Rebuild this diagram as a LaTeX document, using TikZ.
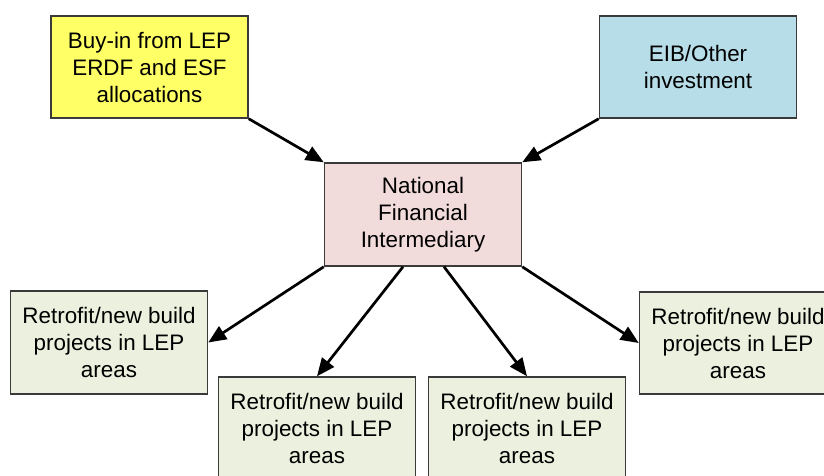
\documentclass[tikz,border=0pt]{standalone}
\usepackage{fontspec}
\setmainfont{Liberation Sans}
\usepackage{tikz}
\usetikzlibrary{arrows.meta}
\usetikzlibrary{calc}

\definecolor{fundyellow}{HTML}{FFFF66}
\definecolor{fundblue}{HTML}{B7DDE8}
\definecolor{hubpink}{HTML}{F2DCDB}
\definecolor{projgreen}{HTML}{EBF1DE}
\definecolor{edgegray}{HTML}{3A3A3A}

\begin{document}
\begin{tikzpicture}[x=1pt, y=-1pt, >={Triangle[length=18pt,width=15pt]},
    box/.style={draw=edgegray, line width=1.5pt, minimum width=197pt,
        minimum height=102pt, inner sep=0pt, align=center,
        font=\fontsize{22.4}{27}\selectfont},
    flow/.style={->, line width=2.7pt, black}]
    % Frame of the picture
    \useasboundingbox (0,0) rectangle (824,475);

    % Sources of money
    \node[box, fill=fundyellow] (buyin) at (149.5,67) {Buy-in from LEP\\ERDF and ESF\\allocations};
    \node[box, fill=fundblue] (eib) at (698,67) {EIB/Other\\investment};

    % The intermediary in the middle
    \node[box, fill=hubpink, minimum height=103pt] (nfi) at (423,214.5) {National\\Financial\\Intermediary};

    % Projects below
    \node[box, fill=projgreen, minimum height=103pt] (projA) at (109,342.5) {Retrofit/new build\\projects in LEP\\areas};
    \node[box, fill=projgreen, minimum height=103pt] (projB) at (317,428.5) {Retrofit/new build\\projects in LEP\\areas};
    \node[box, fill=projgreen, minimum height=103pt] (projC) at (527,428.5) {Retrofit/new build\\projects in LEP\\areas};
    \node[box, fill=projgreen] (projD) at (738,343) {Retrofit/new build\\projects in LEP\\areas};

    % Start points of the two middle arrows
    \coordinate (outB) at ($(nfi.south)+(-20,0)$);
    \coordinate (outC) at ($(nfi.south)+(21,0)$);

    % Money flowing in
    \draw[flow] (buyin.south east) -- (nfi.north west);
    \draw[flow] (eib.south west) -- (nfi.north east);

    % Money flowing out
    \draw[flow] (nfi.south west) -- (projA.east);
    \draw[flow] (outB) -- (projB.north);
    \draw[flow] (outC) -- (projC.north);
    \draw[flow] (nfi.south east) -- (projD.west);
\end{tikzpicture}
\end{document}
